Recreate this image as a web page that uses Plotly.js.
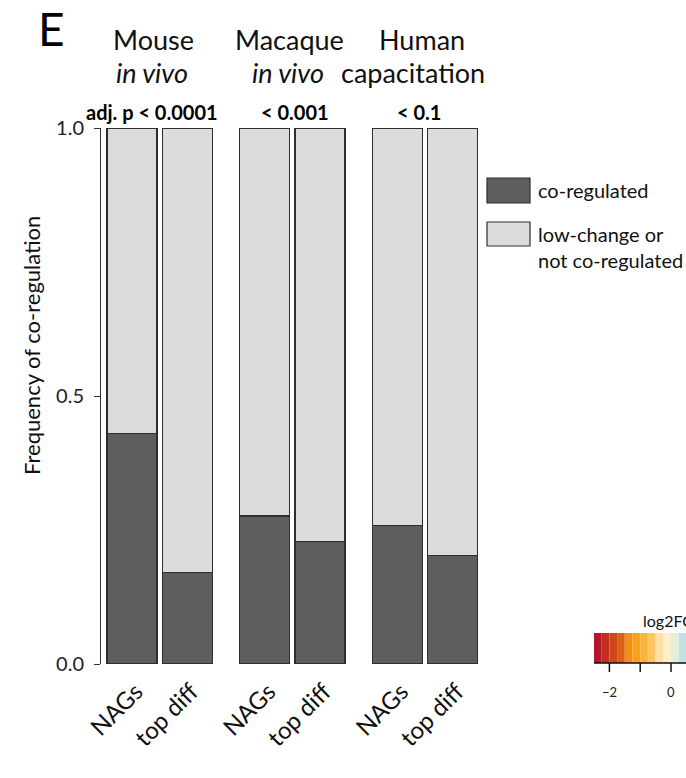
<!DOCTYPE html>
<html>
<head>
<meta charset="utf-8">
<script src="https://cdn.plot.ly/plotly-3.0.1.min.js"></script>
<style>html,body{margin:0;padding:0;background:#fff;}#chart{width:686px;height:778px;}</style>
</head>
<body>
<div id="chart"></div>
<script>
// ---- data ----
const barPositions = [0, 1, 2.4, 3.4, 4.8, 5.8];
const barLabels = ["NAGs", "top diff", "NAGs", "top diff", "NAGs", "top diff"];
const coRegulated = [0.430, 0.170, 0.276, 0.228, 0.259, 0.203];
const notCoRegulated = [0.570, 0.830, 0.724, 0.772, 0.741, 0.797];
const groupTitles = ["Mouse", "Macaque", "Human"];
const groupSubtitles = ["in vivo", "in vivo", "capacitation"];
const groupSubItalic = [true, true, false];
const pValues = ["adj. p < 0.0001", "< 0.001", "< 0.1"];
const yTickVals = [0, 0.5, 1];
const yTickText = ["0.0", "0.5", "1.0"];
// colour key of the neighbouring panel (log2FC), partly off the page
const cbTickVals = [-2, -1, 0, 1, 2];
const cbTickText = ["\u22122", "", "0", "", "2"];
const cbColors = ['#b2182b','#c12d22','#cf461c','#db6118','#f29012','#f5a21f','#f8b43c','#fbc660','#fde0a6','#fef0cc','#e4eed9','#c0e3e2','#9fd1dc','#7fbbd6','#63a3cc','#4d88bf','#3f6fb0','#345a9f','#2b4690','#233480'];

// ---- layout helpers (pixel -> paper) ----
const L = 101, R = 480, T = 128, B = 664, W = 686, H = 778;
const px = v => (v - L) / (R - L);
const py = v => (B - v) / (B - T);
const FONT = "Lato, 'Open Sans', sans-serif";

// colour-key geometry (pixels)
const CB_MIN = -2.5, CB_MAX = 2.5, CB_LEFT = 594, CB_LEN = 154, CB_TOP = 633, CB_BOTTOM = 663;
const cbPx = v => CB_LEFT + (v - CB_MIN) / (CB_MAX - CB_MIN) * CB_LEN;

const traces = [
  {
    type: 'bar', x: barPositions, y: coRegulated, width: 0.904,
    marker: {color: '#5e5e5e', line: {color: '#2e2e2e', width: 1.2}},
    hoverinfo: 'y', showlegend: false
  },
  {
    type: 'bar', x: barPositions, y: notCoRegulated, width: 0.904,
    marker: {color: '#dcdcdc', line: {color: '#2e2e2e', width: 1.2}},
    hoverinfo: 'y', showlegend: false
  }
];

const annotations = [];
// panel letter
annotations.push({xref: 'paper', yref: 'paper', x: px(51), y: py(28), text: 'E', showarrow: false,
  xanchor: 'center', yanchor: 'middle', font: {family: FONT, size: 46, color: '#000'}});
// y title
annotations.push({xref: 'paper', yref: 'paper', x: px(31), y: py(346), text: 'Frequency of co-regulation',
  textangle: -90, showarrow: false, xanchor: 'center', yanchor: 'middle',
  font: {family: FONT, size: 22, color: '#111'}});
// group titles
const titleCenters = [153, 289, 422];
const subCenters = [152, 288, 413];
const pCenters = [152, 295, 419];
groupTitles.forEach((t, i) => {
  annotations.push({xref: 'paper', yref: 'paper', x: px(titleCenters[i]), y: py(40), text: t, showarrow: false,
    xanchor: 'center', yanchor: 'middle', font: {family: FONT, size: 27, color: '#111'}});
  const s = groupSubItalic[i] ? '<i>' + groupSubtitles[i] + '</i>' : groupSubtitles[i];
  annotations.push({xref: 'paper', yref: 'paper', x: px(subCenters[i]), y: py(72.5), text: s, showarrow: false,
    xanchor: 'center', yanchor: 'middle', font: {family: FONT, size: 27, color: '#111'}});
  annotations.push({xref: 'paper', yref: 'paper', x: px(pCenters[i]), y: py(112), text: '<b>' + pValues[i] + '</b>', showarrow: false,
    xanchor: 'center', yanchor: 'middle', font: {family: FONT, size: 20, color: '#000'}});
});
// legend text
annotations.push({xref: 'paper', yref: 'paper', x: px(536), y: py(190), text: 'co-regulated', showarrow: false,
  xanchor: 'left', yanchor: 'middle', font: {family: FONT, size: 20, color: '#111'}});
annotations.push({xref: 'paper', yref: 'paper', x: px(536), y: py(234), text: 'low-change or', showarrow: false,
  xanchor: 'left', yanchor: 'middle', font: {family: FONT, size: 20, color: '#111'}});
annotations.push({xref: 'paper', yref: 'paper', x: px(536), y: py(260), text: 'not co-regulated', showarrow: false,
  xanchor: 'left', yanchor: 'middle', font: {family: FONT, size: 20, color: '#111'}});
// colour key title and tick labels (only those that fall on the page)
annotations.push({xref: 'paper', yref: 'paper', x: px(641), y: py(620), text: 'log2FC', showarrow: false,
  xanchor: 'left', yanchor: 'middle', font: {family: FONT, size: 16, color: '#111'}});
cbTickVals.forEach((v, i) => {
  if (!cbTickText[i] || cbPx(v) > W - 8) return;
  annotations.push({xref: 'paper', yref: 'paper', x: px(cbPx(v)), y: py(692), text: cbTickText[i], showarrow: false,
    xanchor: 'center', yanchor: 'middle', font: {family: FONT, size: 13, color: '#222'}});
});

const shapes = [
  {type: 'rect', xref: 'paper', yref: 'paper', x0: px(487), x1: px(530), y0: py(203), y1: py(178),
    fillcolor: '#5e5e5e', line: {color: '#2e2e2e', width: 1.2}},
  {type: 'rect', xref: 'paper', yref: 'paper', x0: px(487), x1: px(530), y0: py(246), y1: py(222),
    fillcolor: '#dcdcdc', line: {color: '#2e2e2e', width: 1.2}}
];
// colour-key blocks
const step = (CB_MAX - CB_MIN) / cbColors.length;
cbColors.forEach((c, i) => {
  shapes.push({type: 'rect', xref: 'paper', yref: 'paper',
    x0: px(cbPx(CB_MIN + i * step)), x1: px(cbPx(CB_MIN + (i + 1) * step)),
    y0: py(CB_BOTTOM), y1: py(CB_TOP), fillcolor: c, line: {width: 0}});
});
// colour-key axis line and ticks
shapes.push({type: 'line', xref: 'paper', yref: 'paper', x0: px(CB_LEFT), x1: px(CB_LEFT + CB_LEN),
  y0: py(CB_BOTTOM), y1: py(CB_BOTTOM), line: {color: '#111', width: 1.5}});
cbTickVals.forEach(v => {
  shapes.push({type: 'line', xref: 'paper', yref: 'paper', x0: px(cbPx(v)), x1: px(cbPx(v)),
    y0: py(CB_BOTTOM), y1: py(CB_BOTTOM + 9), line: {color: '#111', width: 1.5}});
});

const layout = {
  width: W, height: H,
  margin: {l: L, r: W - R, t: T, b: H - B, pad: 0, autoexpand: false},
  paper_bgcolor: '#fff', plot_bgcolor: '#fff',
  barmode: 'stack', bargap: 0,
  font: {family: FONT, color: '#111'},
  xaxis: {
    range: [-0.56, 6.293], tickvals: barPositions, ticktext: barLabels,
    tickangle: -45, showline: false, zeroline: false, showgrid: false, ticks: '',
    tickfont: {family: FONT, size: 24, color: '#111'}, fixedrange: true, automargin: false,
    ticklabelstandoff: 8, ticklabelshift: 4
  },
  yaxis: {
    range: [0, 1], tickvals: yTickVals, ticktext: yTickText,
    showline: true, linecolor: '#333', linewidth: 1, ticks: 'outside', ticklen: 6, tickcolor: '#333',
    showgrid: false, zeroline: false, tickfont: {family: FONT, size: 20, color: '#222'},
    ticklabelstandoff: 6, fixedrange: true, automargin: false
  },
  annotations: annotations,
  shapes: shapes
};

Plotly.newPlot('chart', traces, layout, {displayModeBar: false, staticPlot: true});
</script>
</body>
</html>
